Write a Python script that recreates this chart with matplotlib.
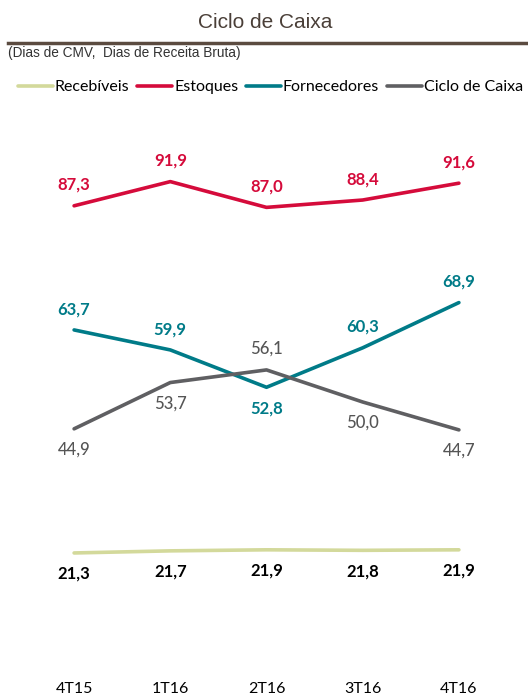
import matplotlib.pyplot as plt

periodos = ["4T15", "1T16", "2T16", "3T16", "4T16"]
recebiveis = [21.3, 21.7, 21.9, 21.8, 21.9]
estoques = [87.3, 91.9, 87.0, 88.4, 91.6]
fornecedores = [63.7, 59.9, 52.8, 60.3, 68.9]
ciclo = [44.9, 53.7, 56.1, 50.0, 44.7]

# label above (+1) or below (-1)
pos_receb = [-1, -1, -1, -1, -1]
pos_estoq = [1, 1, 1, 1, 1]
pos_forn = [1, 1, -1, 1, 1]
pos_ciclo = [-1, -1, 1, -1, -1]

c_receb = "#d3d99b"
c_estoq = "#d50b3b"
c_forn = "#007b88"
c_ciclo = "#5f5f62"

W, H = 528, 695
fig = plt.figure(figsize=(W / 100, H / 100), dpi=100)
ax = fig.add_axes([26 / W, 30 / H, 481 / W, 526 / H])

x = range(len(periodos))
series = [
    ("Recebíveis", recebiveis, c_receb, pos_receb, "black", "bold"),
    ("Estoques", estoques, c_estoq, pos_estoq, c_estoq, "bold"),
    ("Fornecedores", fornecedores, c_forn, pos_forn, c_forn, "bold"),
    ("Ciclo de Caixa", ciclo, c_ciclo, pos_ciclo, "#555555", "medium"),
]
for nome, vals, cor, pos, tcor, peso in series:
    ax.plot(x, vals, color=cor, lw=2.6, label=nome, solid_capstyle="round")
    for i, v in enumerate(vals):
        ax.annotate(f"{v:.1f}".replace(".", ","), (i, v),
                    xytext=(0, 15 * pos[i]), textcoords="offset points",
                    ha="center", va="center", color=tcor,
                    fontsize=12, fontweight=peso, family="Lato")

ax.set_xlim(-0.5, 4.5)
ax.set_ylim(0, 100)
ax.set_xticks(list(x))
ax.set_xticklabels(periodos, fontsize=11.5, family="Lato")
ax.tick_params(axis="x", length=0, pad=12)
ax.set_yticks([])
for s in ax.spines.values():
    s.set_visible(False)

fig.text(0.502, 1 - 22 / H, "Ciclo de Caixa", ha="center", va="center",
         fontsize=15, color="#4a3f38", family="Liberation Sans")
fig.add_artist(plt.Line2D([8 / W, 1], [1 - 43 / H, 1 - 43 / H],
                          color="#5b4b40", lw=2.5, transform=fig.transFigure))
fig.text(8 / W, 1 - 53 / H, "(Dias de CMV,  Dias de Receita Bruta)", ha="left",
         va="center", fontsize=9.8, color="#333333", family="Liberation Sans")

leg = ax.legend(loc="center left", bbox_to_anchor=(10 / W, 1 - 87 / H),
                bbox_transform=fig.transFigure, ncol=4, frameon=False,
                handlelength=2.2, handletextpad=0.1, columnspacing=0.5,
                prop={"family": "Lato", "size": 11.5}, borderpad=0)

fig.savefig("out.png", dpi=100)
